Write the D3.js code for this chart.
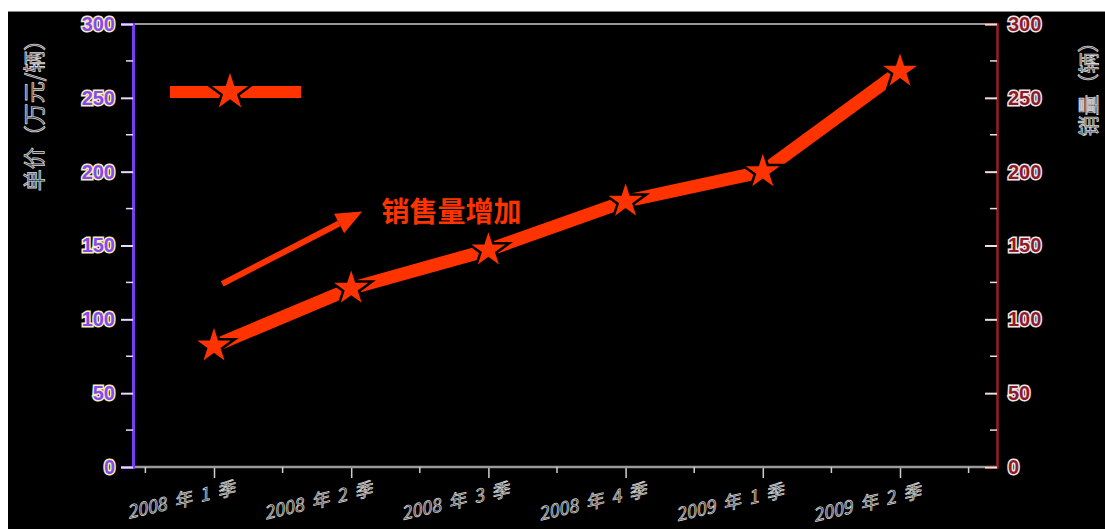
<!DOCTYPE html>
<html>
<head>
<meta charset="utf-8">
<script src="https://cdn.jsdelivr.net/npm/d3@7"></script>
<style>
  body { margin: 0; background: #fff; }
  svg { display: block; }
</style>
</head>
<body>
<div id="chart"></div>
<script>
// data
var categories = ["2008 年 1 季", "2008 年 2 季", "2008 年 3 季", "2008 年 4 季", "2009 年 1 季", "2009 年 2 季"];
var sales = [82, 121, 147, 180, 200, 268];
var yTicks = [0, 50, 100, 150, 200, 250, 300];
var yMinor = [25, 75, 125, 175, 225, 275];
var leftTitle = "单价（万元/辆）";
var rightTitle = "销量（辆）";
var noteText = "销售量增加";
// arrow start/end in (category index, value)
var arrowPts = [[0.06, 124], [1.08, 173]];
var notePos = [1.22, 166];

var W = 1105, H = 529;
// note: "top" is reserved on window, so use plot* names
var plotL = 133, plotR = 997, plotT = 24, plotB = 467;
var red = "#ff3300";

var svg = d3.select("#chart").append("svg")
	.attr("width", W)
	.attr("height", H);

// black plate (white strip at top and left like the original)
svg.append("rect").attr("x", 8).attr("y", 11).attr("width", W - 8).attr("height", H - 11).attr("fill", "#000");
svg.append("line").attr("x1", 8).attr("x2", W).attr("y1", 11.5).attr("y2", 11.5).attr("stroke", "#888").attr("stroke-width", 1);

// scales
var y = d3.scaleLinear().domain([0, 300]).range([plotB, plotT]);
var x = d3.scaleLinear().domain([0, categories.length - 1]).range([214, 900]);

// frame line top
svg.append("line").attr("x1", plotL).attr("x2", plotR).attr("y1", plotT).attr("y2", plotT)
	.attr("stroke", "#9a9a9a").attr("stroke-width", 2);

// bottom axis
var xAxis = d3.axisBottom(x)
	.tickValues(d3.range(categories.length))
	.tickSize(11)
	.tickFormat(function(d) { return ""; });
var gx = svg.append("g").attr("transform", "translate(0," + plotB + ")").call(xAxis);
gx.select(".domain").remove();
gx.selectAll(".tick line").attr("stroke", "#cfcfcf").attr("stroke-width", 1.5);
svg.append("line").attr("x1", plotL).attr("x2", plotR).attr("y1", plotB).attr("y2", plotB)
	.attr("stroke", "#9a9a9a").attr("stroke-width", 2.5);

var xMinor = d3.range(-0.5, categories.length, 1);
svg.append("g").selectAll("line").data(xMinor).join("line")
	.attr("x1", function(d) { return x(d); }).attr("x2", function(d) { return x(d); })
	.attr("y1", plotB).attr("y2", plotB + 6)
	.attr("stroke", "#cfcfcf").attr("stroke-width", 1.5);

svg.append("g").selectAll("text").data(categories).join("text")
	.attr("transform", function(d, i) { return "translate(" + (x(i) + 22) + "," + (494 + i * 0.6) + ") rotate(-13)"; })
	.attr("text-anchor", "end")
	.attr("font-family", "'Noto Sans CJK SC', sans-serif")
	.attr("font-size", 18)
	.attr("font-style", "italic")
	.attr("xml:space", "preserve")
	.attr("fill", "#2a2a2a")
	.attr("stroke", "#d8d8d8")
	.attr("stroke-width", 0.7)
	.text(function(d) { return d.replace(/ /g, "  "); });

// left axis
var yLeft = d3.axisLeft(y).tickValues(yTicks).tickSize(12).tickPadding(6);
var gl = svg.append("g").attr("transform", "translate(" + plotL + ",0)").call(yLeft);
gl.select(".domain").attr("stroke", "#7a3cf0").attr("stroke-width", 3);
gl.selectAll(".tick line").attr("stroke", "#e4dcff").attr("stroke-width", 2);
gl.selectAll(".tick text")
	.attr("font-family", "'Liberation Sans', Arial, sans-serif")
	.attr("font-size", 20)
	.attr("font-weight", "bold")
	.attr("fill", "#8a48f0")
	.attr("stroke", "#f4efb8")
	.attr("stroke-width", 3)
	.attr("paint-order", "stroke");
svg.append("g").selectAll("line").data(yMinor).join("line")
	.attr("x1", plotL - 7).attr("x2", plotL)
	.attr("y1", function(d) { return y(d); }).attr("y2", function(d) { return y(d); })
	.attr("stroke", "#e4dcff").attr("stroke-width", 1.5);

// right axis (ticks point inward)
var yRight = d3.axisRight(y).tickValues(yTicks).tickSize(-12).tickPadding(11);
var gr = svg.append("g").attr("transform", "translate(" + plotR + ",0)").call(yRight);
gr.select(".domain").attr("stroke", "#9b1c22").attr("stroke-width", 2.5);
gr.selectAll(".tick line").attr("stroke", "#f0dcdc").attr("stroke-width", 2);
gr.selectAll(".tick text")
	.attr("font-family", "'Liberation Sans', Arial, sans-serif")
	.attr("font-size", 20)
	.attr("font-weight", "bold")
	.attr("fill", "#8b1a2a")
	.attr("stroke", "#f2e6e6")
	.attr("stroke-width", 3)
	.attr("paint-order", "stroke");
svg.append("g").selectAll("line").data(yMinor).join("line")
	.attr("x1", plotR - 7).attr("x2", plotR)
	.attr("y1", function(d) { return y(d); }).attr("y2", function(d) { return y(d); })
	.attr("stroke", "#f0dcdc").attr("stroke-width", 1.5);

// axis titles
svg.append("text")
	.attr("transform", "translate(42," + 110 + ") rotate(-90)")
	.attr("text-anchor", "middle")
	.attr("font-family", "'Noto Sans CJK SC', sans-serif")
	.attr("font-size", 22)
	.attr("fill", "#2a2a2a")
	.attr("stroke", "#d8d8d8")
	.attr("stroke-width", 0.8)
	.text(leftTitle);
svg.append("text")
	.attr("transform", "translate(1096," + 84 + ") rotate(-90)")
	.attr("text-anchor", "middle")
	.attr("font-family", "'Noto Sans CJK SC', sans-serif")
	.attr("font-size", 21)
	.attr("fill", "#2a2a2a")
	.attr("stroke", "#d8d8d8")
	.attr("stroke-width", 0.8)
	.text(rightTitle);

// sales line
var line = d3.line()
	.x(function(d, i) { return x(i); })
	.y(function(d) { return y(d); });
svg.append("path").datum(sales)
	.attr("d", line)
	.attr("fill", "none")
	.attr("stroke", red)
	.attr("stroke-width", 13);

var star = d3.symbol().type(d3.symbolStar).size(540);
svg.append("g").selectAll("path").data(sales).join("path")
	.attr("transform", function(d, i) { return "translate(" + x(i) + "," + y(d) + ")"; })
	.attr("d", star)
	.attr("fill", red)
	.attr("stroke", "#000")
	.attr("stroke-width", 2.5);

// legend
svg.append("line").attr("x1", 170).attr("x2", 301).attr("y1", 92).attr("y2", 92)
	.attr("stroke", red).attr("stroke-width", 12);
svg.append("path")
	.attr("transform", "translate(230,92)")
	.attr("d", d3.symbol().type(d3.symbolStar).size(600))
	.attr("fill", red)
	.attr("stroke", "#000")
	.attr("stroke-width", 2.5);

// annotation arrow + text
var ax0 = x(arrowPts[0][0]), ay0 = y(arrowPts[0][1]);
var ax1 = x(arrowPts[1][0]), ay1 = y(arrowPts[1][1]);
var ang = Math.atan2(ay1 - ay0, ax1 - ax0);
var headLen = 26, headW = 11;
var bx = ax1 - headLen * Math.cos(ang), by = ay1 - headLen * Math.sin(ang);
svg.append("line")
	.attr("x1", ax0).attr("y1", ay0).attr("x2", bx).attr("y2", by)
	.attr("stroke", red).attr("stroke-width", 6);
svg.append("path")
	.attr("d", "M" + ax1 + "," + ay1 +
		"L" + (bx + headW * Math.sin(ang)) + "," + (by - headW * Math.cos(ang)) +
		"L" + (bx - headW * Math.sin(ang)) + "," + (by + headW * Math.cos(ang)) + "Z")
	.attr("fill", red);

svg.append("text")
	.attr("x", x(notePos[0]))
	.attr("y", y(notePos[1]))
	.attr("font-family", "'Noto Sans CJK SC', sans-serif")
	.attr("font-size", 28)
	.attr("font-weight", "bold")
	.attr("fill", red)
	.text(noteText);
</script>
</body>
</html>
